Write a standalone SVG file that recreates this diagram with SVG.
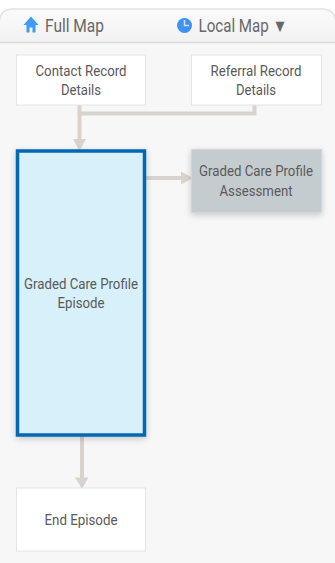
<svg xmlns="http://www.w3.org/2000/svg" width="335" height="563" viewBox="0 0 335 563">
<style>
text{font-family:Roboto,"Liberation Sans",sans-serif;fill:#5a5a5a;text-anchor:middle;lengthAdjust:spacingAndGlyphs}
.n{font-size:14.500px}
.h{font-size:18px;text-anchor:start;fill:#686868}
.w{fill:#fff;stroke:#e4e4e4;stroke-width:1}
.c{fill:none;stroke:#d8d3cc;stroke-width:4}
.a{fill:#d8d3cc}
</style>
<defs>
<linearGradient id="hdr" x1="0" y1="0" x2="0" y2="1"><stop offset="0" stop-color="#fbfbfb"/><stop offset="1" stop-color="#f1f1f1"/></linearGradient>
<filter id="sh" x="-20%" y="-20%" width="140%" height="140%"><feDropShadow dx="0" dy="2" stdDeviation="3" flood-color="#000" flood-opacity=".2"/></filter>
</defs>
<rect width="335" height="563" fill="#fff"/>
<path d="M0 563V20Q0 8 14 8H321Q335 8 335 20V563Z" fill="#f7f7f7"/>
<g id="header">
<path d="M0 42.500V20Q0 9 14 9H321Q335 9 335 20V42.500Z" fill="url(#hdr)"/>
<path d="M0 20Q0 9 14 9H321Q335 9 335 20" fill="none" stroke="#e4e4e4" stroke-width="1.500"/>
<path d="M0 42.500H335" stroke="#dcdcdc" stroke-width="1.500"/>
<path d="M31 16.500L38.500 25H35.500V32.500H32.500V27.500H29.500V32.500H26.500V25H23.500Z" fill="#3f9cf5"/>
<text class="h" x="45" y="32" textLength="59" lengthAdjust="spacingAndGlyphs">Full Map</text>
<circle cx="184.500" cy="25.500" r="7.500" fill="#3f93f0"/>
<path d="M184.500 20V25.500H189" fill="none" stroke="#cfe4fa" stroke-width="1.500"/>
<text class="h" x="198.500" y="32" textLength="89" lengthAdjust="spacingAndGlyphs">Local Map ▼</text>
</g>
<g id="connectors">
<path class="c" d="M79.500 105V140"/>
<path class="c" d="M79.500 113.500H254.500V105" stroke-linecap="round"/>
<path class="a" d="M73 139H86L79.500 151Z"/>
<path class="c" d="M146 178H182"/>
<path class="a" d="M181 171.500V184.500L193 178Z"/>
<path class="c" d="M82 436V478"/>
<path class="a" d="M75 477.500H88.500L82 489Z"/>
</g>
<g id="contact-record-details">
<rect class="w" x="16.500" y="55" width="129" height="50"/>
<text class="n" x="81" y="76" textLength="91" lengthAdjust="spacingAndGlyphs">Contact Record</text>
<text class="n" x="81" y="95" textLength="40" lengthAdjust="spacingAndGlyphs">Details</text>
</g>
<g id="referral-record-details">
<rect class="w" x="191.500" y="55" width="130" height="50"/>
<text class="n" x="256" y="76" textLength="91" lengthAdjust="spacingAndGlyphs">Referral Record</text>
<text class="n" x="256" y="95" textLength="40" lengthAdjust="spacingAndGlyphs">Details</text>
</g>
<g id="graded-care-profile-episode">
<rect x="17.500" y="151" width="127" height="284" fill="#d8f0fa" stroke="#0068b4" stroke-width="3.500" filter="url(#sh)"/>
<text class="n" x="81" y="289" textLength="114" lengthAdjust="spacingAndGlyphs">Graded Care Profile</text>
<text class="n" x="81" y="308" textLength="47" lengthAdjust="spacingAndGlyphs">Episode</text>
</g>
<g id="graded-care-profile-assessment">
<rect x="191.500" y="149.500" width="130" height="63" fill="#c5cccf" stroke="#d3d7d9" stroke-width="1" filter="url(#sh)"/>
<text class="n" x="256" y="176" textLength="114" lengthAdjust="spacingAndGlyphs">Graded Care Profile</text>
<text class="n" x="256" y="196" textLength="73" lengthAdjust="spacingAndGlyphs">Assessment</text>
</g>
<g id="end-episode">
<rect class="w" x="16.500" y="488" width="129" height="63"/>
<text class="n" x="81" y="525" textLength="73" lengthAdjust="spacingAndGlyphs">End Episode</text>
</g>
</svg>
